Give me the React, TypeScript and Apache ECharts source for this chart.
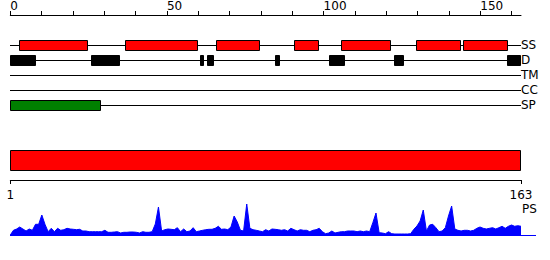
import React, { useEffect, useRef } from "react";
import * as echarts from "echarts";

const seqLength = 163;
const trackNames = ["SS", "D", "TM", "CC", "SP"];
const topTickValues = [0, 10, 20, 30, 40, 50, 60, 70, 80, 90, 100, 110, 120, 130, 140, 150, 160];
const topTickLabels = [0, 50, 100, 150];
const bottomTickValues = [1, 163];

// segments per track: [start, end] in residue units
const ssSegments = [[2.9, 24.9], [36.7, 59.8], [65.7, 79.8], [90.6, 98.6], [105.6, 121.6], [129.5, 143.7], [144.6, 158.7]];
const dSegments = [[0, 8.1], [25.7, 34.9], [60.5, 61.7], [62.7, 64.9], [84.5, 86], [101.7, 106.7], [122.4, 125.8], [158.5, 163]];
const tmSegments: number[][] = [];
const ccSegments: number[][] = [];
const spSegments = [[0, 28.8]];

const proteinSpan = [1, 163];

// PS profile, residues 1..163
const psValues = [
  1, 5.7, 7, 9, 7, 5, 7, 5.7, 11.7, 11.7,
  21, 11.7, 4.3, 7.7, 4.3, 7.7, 5.7, 6.3, 7.7, 7,
  6.7, 6.3, 6.7, 5, 5, 4.3, 4.3, 4.3, 4.3, 4.3,
  5.7, 3.7, 3.7, 4, 4.3, 3, 3.7, 3.7, 4, 4,
  3.7, 3, 4.3, 3.7, 3.7, 4.3, 12, 29, 5, 6.3,
  7, 6.7, 6.3, 8.3, 4.3, 7, 4.3, 5, 8.3, 4.3,
  5, 5.7, 6.3, 6.7, 6.7, 7.7, 9.7, 6.7, 7, 6.3,
  9, 20, 14, 5.7, 5, 32, 7.7, 6.3, 5.7, 5,
  4.3, 6.3, 5, 7, 6.7, 6.3, 5.7, 6.3, 5, 7.7,
  6.3, 5, 6.3, 5.7, 5.7, 4.3, 5.7, 6.3, 7.7, 4.3,
  2.3, 3, 5, 3, 3.7, 4.3, 4.3, 5, 5, 5,
  4.3, 5, 4.3, 5, 4.3, 13.3, 23, 3.3, 3, 2.3,
  4.3, 2.3, 2, 2, 2, 2, 2, 2.3, 6.7, 10,
  15, 26, 5, 11, 11.7, 8.3, 4.3, 5, 8.3, 20,
  30, 7, 5.7, 5, 5.7, 5.7, 5, 5.7, 7.7, 9,
  7.7, 7, 7.7, 8.3, 7, 8.3, 9.7, 7.7, 9.7, 11,
  9.7, 10.3, 9.7,
];
const psResidues = psValues.map((_, i) => i + 1);

const FONT = "DejaVu Sans";

export default function App() {
  const ref = useRef<HTMLDivElement>(null);
  useEffect(() => {
    if (!ref.current) return;
    const chart = echarts.init(ref.current, undefined, { renderer: "svg" });

    const allSegs = [ssSegments, dSegments, tmSegments, ccSegments, spSegments];
    const boxData: number[][] = [];
    allSegs.forEach((segs, row) => segs.forEach((s) => boxData.push([row, s[0], s[1]])));
    const boxStyles = [
      { fill: "#ff0000", stroke: "#000000" },
      { fill: "#000000", stroke: "#000000" },
      { fill: "#000000", stroke: "#000000" },
      { fill: "#000000", stroke: "#000000" },
      { fill: "#008000", stroke: "#000000" },
    ];

    const option: any = {
      animation: false,
      backgroundColor: "#ffffff",
      textStyle: { fontFamily: FONT },
      grid: [
        { left: 10.3, right: 29, top: 37.5, height: 75 },
        { left: 10.3, right: 29, top: 140, height: 40 },
        { left: 10.3, right: 29, top: 200, height: 36 },
      ],
      xAxis: [
        {
          gridIndex: 0, type: "value", min: 0, max: seqLength, position: "top", offset: 22.5,
          axisLine: { show: true, lineStyle: { color: "#000", width: 1 } },
          axisTick: { show: true, length: 4, customValues: topTickValues, lineStyle: { color: "#000" } },
          axisLabel: { customValues: topTickLabels, align: "left", margin: 3, fontSize: 12, color: "#000", fontFamily: FONT },
          splitLine: { show: false },
        },
        {
          gridIndex: 1, type: "value", min: 1, max: seqLength, position: "bottom",
          axisLine: { show: true, lineStyle: { color: "#000", width: 1 } },
          axisTick: { show: true, length: 4, customValues: bottomTickValues, lineStyle: { color: "#000" } },
          axisLabel: { customValues: bottomTickValues, margin: 9, fontSize: 12, lineHeight: 12, color: "#000", fontFamily: FONT },
          splitLine: { show: false },
        },
        { gridIndex: 2, type: "value", min: 1, max: seqLength, show: false },
      ],
      yAxis: [
        {
          gridIndex: 0, type: "category", data: trackNames, inverse: true, position: "right",
          axisLine: { show: false }, axisTick: { show: false },
          axisLabel: { interval: 0, hideOverlap: false, margin: 0, align: "left", fontSize: 12, color: "#000", fontFamily: FONT },
          splitLine: { show: false },
        },
        { gridIndex: 1, type: "value", min: 0, max: 1, show: false },
        { gridIndex: 2, type: "value", min: 0, max: 36, show: false },
      ],
      graphic: [
        { type: "line", shape: { x1: 10, y1: 235.5, x2: 536, y2: 235.5 }, style: { stroke: "#0000ff", lineWidth: 1 }, z: 10 },
        { type: "text", x: 522, y: 208.5, style: { text: "PS", fontSize: 12, lineHeight: 12, fontFamily: FONT, fill: "#000", verticalAlign: "middle", align: "left" } },
      ],
      series: [
        {
          type: "custom", xAxisIndex: 0, yAxisIndex: 0, clip: false, z: 1,
          data: trackNames.map((_, i) => [i, 0, seqLength]),
          encode: { x: [1, 2], y: 0 },
          renderItem: (params: any, api: any) => {
            const row = api.value(0);
            const p0 = api.coord([api.value(1), row]);
            const p1 = api.coord([api.value(2), row]);
            const y = Math.floor(p0[1]) + 0.5;
            return { type: "line", shape: { x1: Math.floor(p0[0]), y1: y, x2: Math.round(p1[0]), y2: y }, style: { stroke: "#000", lineWidth: 1 } };
          },
        },
        {
          type: "custom", xAxisIndex: 0, yAxisIndex: 0, clip: false, z: 2,
          data: boxData,
          encode: { x: [1, 2], y: 0 },
          renderItem: (params: any, api: any) => {
            const row = api.value(0);
            const p0 = api.coord([api.value(1), row]);
            const p1 = api.coord([api.value(2), row]);
            const yc = Math.floor(p0[1]) + 0.5;
            const x0 = Math.round(p0[0]) + 0.5;
            const x1 = Math.round(p1[0]) - 0.5;
            const st = boxStyles[row];
            return {
              type: "rect",
              shape: { x: x0, y: yc - 5, width: Math.max(1, x1 - x0), height: 10 },
              style: { fill: st.fill, stroke: st.stroke, lineWidth: 1 },
            };
          },
        },
        {
          type: "custom", xAxisIndex: 1, yAxisIndex: 1, clip: false,
          data: [proteinSpan],
          encode: { x: [0, 1] },
          renderItem: (params: any, api: any) => {
            const p0 = api.coord([api.value(0), 1]);
            const p1 = api.coord([api.value(1), 1]);
            const x0 = Math.round(p0[0]) + 0.5;
            const x1 = Math.round(p1[0]) - 0.5;
            const top = Math.round(p0[1]) + 10.5;
            return {
              type: "rect",
              shape: { x: x0, y: top, width: x1 - x0, height: 20 },
              style: { fill: "#ff0000", stroke: "#000", lineWidth: 1 },
            };
          },
        },
        {
          type: "line", xAxisIndex: 2, yAxisIndex: 2,
          data: psResidues.map((r, i) => [r, psValues[i]]),
          showSymbol: false, symbol: "none",
          lineStyle: { color: "#0000ff", width: 1 },
          areaStyle: { color: "#0000ff", opacity: 1 },
          itemStyle: { color: "#0000ff" },
        },
      ],
    };
    chart.setOption(option);
    return () => chart.dispose();
  }, []);
  return <div ref={ref} style={{ position: "fixed", left: 0, top: 0, width: 550, height: 260, background: "#fff" }} />;
}
